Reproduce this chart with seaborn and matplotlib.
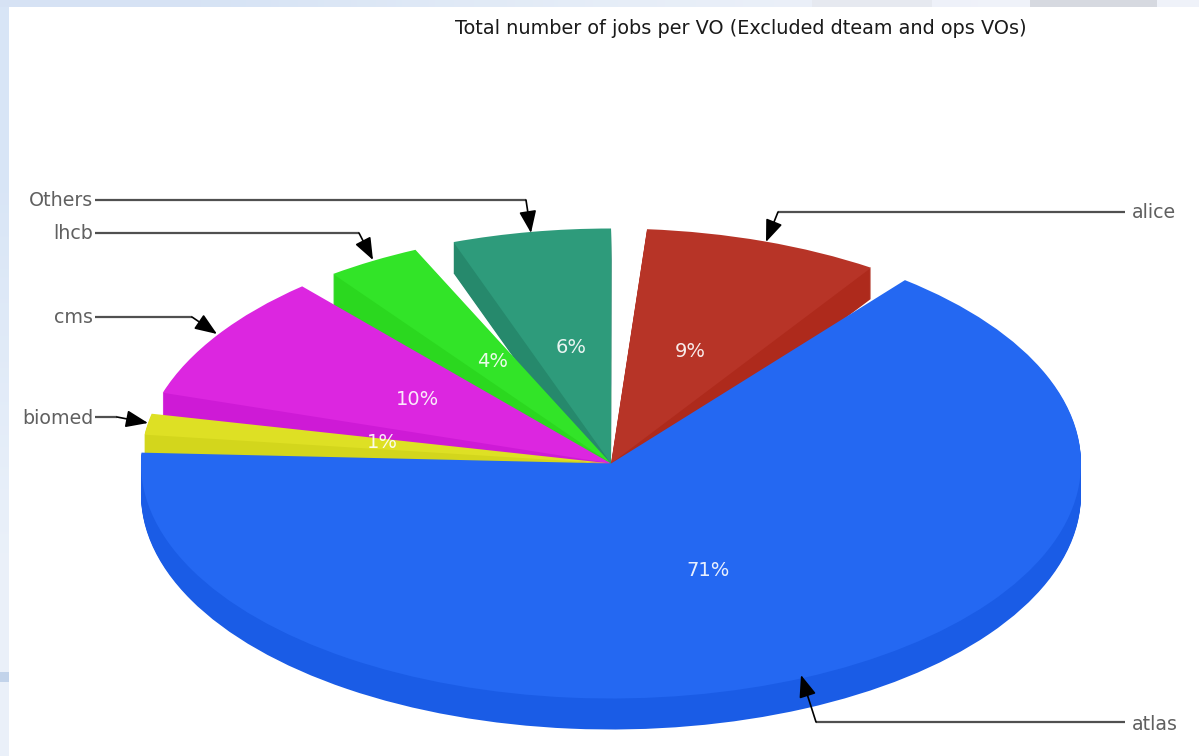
import numpy as np
import matplotlib
matplotlib.use("Agg")
import matplotlib.pyplot as plt
import seaborn as sns

W, H = 1199, 756
TITLE = "Total number of jobs per VO (Excluded dteam and ops VOs)"

# slices run counter-clockwise from the right edge of alice; "" marks the white gaps
slice_names = ["alice", "", "Others", "", "lhcb", "", "cms", "", "biomed", "", "atlas", ""]
slice_shares = [8.11, 1.22, 5.44, 1.39, 3.24, 1.34, 8.72, 1.47, 1.44, 1.22, 64.97, 1.42]
vo_percent = {"alice": "9%", "Others": "6%", "lhcb": "4%", "cms": "10%", "biomed": "1%", "atlas": "71%"}
top_colors = {"alice": "#B73427", "Others": "#2E9B7B", "lhcb": "#32E428",
              "cms": "#DC26E0", "biomed": "#DEE024", "atlas": "#2468F2", "": "#FFFFFF"}
side_colors = {"alice": "#AE2A1C", "Others": "#26896C", "lhcb": "#2BD81F",
               "cms": "#CE1AD6", "biomed": "#D3D61C", "atlas": "#1A5CE6", "": "#FFFFFF"}

# layout, in reference pixels
CX, CY, RX, RY, DEPTH = 611, 463.5, 470, 235, 31
pct_pos = {"alice": (690, 352), "Others": (571, 348), "lhcb": (493, 362),
           "cms": (417, 400), "biomed": (382, 443), "atlas": (708, 570)}
leaders = {
    "alice": [(1125, 212), (778, 212), (766, 242)],
    "Others": [(95, 200), (526, 200), (531, 233)],
    "lhcb": [(95, 233), (359, 233), (373, 260)],
    "cms": [(95, 317), (192, 317), (217, 334)],
    "biomed": [(95, 417), (117, 417), (148, 423)],
    "atlas": [(1125, 722), (816, 722), (801, 675)],
}
name_pos = {"alice": (1132, 213, "left"), "Others": (93, 201, "right"), "lhcb": (93, 234, "right"),
            "cms": (93, 318, "right"), "biomed": (93, 419, "right"), "atlas": (1132, 724, "left")}


def px(x, y):
    return (x - CX) / RX, (CY - y) / RY


sns.set_theme(style="white")
plt.rcParams["font.family"] = ["DejaVu Sans"]
fig = plt.figure(figsize=(W / 100, H / 100), dpi=100, facecolor="white")
ax = fig.add_axes([0, 0, 1, 1])

top_pal = sns.color_palette([top_colors[n] for n in slice_names])
side_pal = sns.color_palette([side_colors[n] for n in slice_names])


def draw_pie(colors, dy):
    wedges, _ = ax.pie(slice_shares, colors=colors, startangle=56.4, counterclock=True,
                       center=(0, -dy), radius=1, normalize=True,
                       wedgeprops={"linewidth": 0})
    for w, n in zip(wedges, slice_names):
        if not n:
            w.set_visible(False)
    return wedges


for d in np.arange(DEPTH, 0, -1):
    draw_pie(side_pal, d / RY)
draw_pie(top_pal, 0)

# page background showing around the chart
x0, y0 = px(0, H)
x1, y1 = px(W, 0)
left = np.array([[0.85, 0.90, 0.965], [0.92, 0.945, 0.98]]).reshape(2, 1, 3)
ax.imshow(left, extent=(x0, px(9, 0)[0], y0, y1), aspect="auto", zorder=0, interpolation="bilinear")
topb = np.array([[0.84, 0.89, 0.96], [0.90, 0.93, 0.97], [0.94, 0.95, 0.98]]).reshape(1, 3, 3)
ax.imshow(topb, extent=(x0, x1, px(0, 7)[1], y1), aspect="auto", zorder=0, interpolation="bilinear")
ax.fill_between([x0, px(9, 0)[0]], px(0, 682)[1], px(0, 672)[1], color="#C2D3EA", lw=0, zorder=0.5)
for a, b, c in [(812, 932, "#E6E9F0"), (1030, 1157, "#D6D9E0")]:
    ax.fill_between([px(a, 0)[0], px(b, 0)[0]], px(0, 7)[1], y1, color=c, lw=0, zorder=0.5)

ax.set_xlim(x0, x1)
ax.set_ylim(y0, y1)
ax.set_aspect("auto")
ax.set_axis_off()

for n, pts in leaders.items():
    xs, ys = zip(*[px(*p) for p in pts[:-1]])
    ax.plot(xs, ys, color="#505050", lw=1.6, zorder=5, solid_capstyle="butt")
    ax.annotate("", xy=px(*pts[-1]), xytext=px(*pts[-2]), zorder=6,
                arrowprops=dict(arrowstyle="-|>,head_length=0.85,head_width=0.33", color="black",
                                lw=1.2, shrinkA=0, shrinkB=0, mutation_scale=16))
    tx, ty, ha = name_pos[n]
    ax.text(*px(tx, ty), n, ha=ha, va="center", color="#606060", fontsize=13.7, zorder=7)

for n, (tx, ty) in pct_pos.items():
    ax.text(*px(tx, ty), vo_percent[n], ha="center", va="center", color="white",
            alpha=0.9, fontsize=14, zorder=7)

ax.text(*px(740.5, 29), TITLE, ha="center", va="center", color="#1A1A1A", fontsize=13.85, zorder=7)

fig.savefig("out.png", dpi=100, facecolor="white")
